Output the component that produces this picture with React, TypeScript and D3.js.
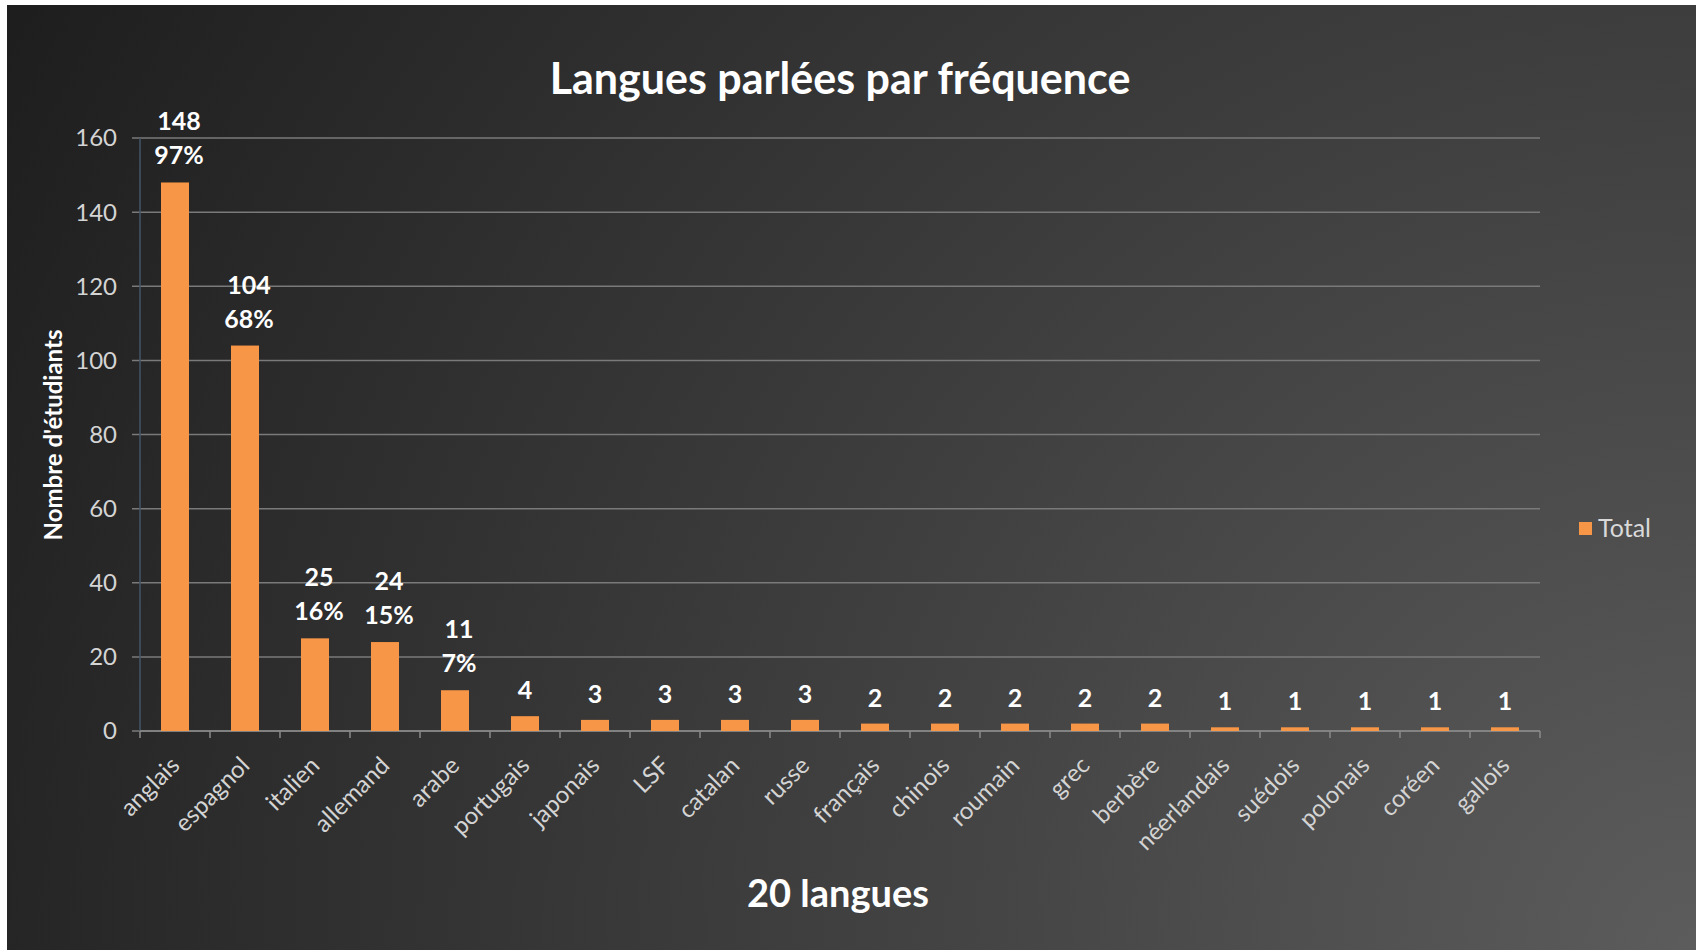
import React from "react";
import * as d3 from "d3";

const categories = ["anglais","espagnol","italien","allemand","arabe","portugais","japonais","LSF","catalan","russe","français","chinois","roumain","grec","berbère","néerlandais","suédois","polonais","coréen","gallois"];
const totals = [148,104,25,24,11,4,3,3,3,3,2,2,2,2,2,1,1,1,1,1];
const percentLabels = ["97%","68%","16%","15%","7%"];
const yTicks = [0,20,40,60,80,100,120,140,160];
const title = "Langues parlées par fréquence";
const xTitle = "20 langues";
const yTitle = "Nombre d'étudiants";
const legendLabel = "Total";

const W = 1696, H = 950;
const FONT = "Lato, 'Open Sans', sans-serif";

export default function App() {
  const x = d3.scaleBand<string>().domain(categories).range([140, 1540]).paddingInner(0.6).paddingOuter(0.3);
  const y = d3.scaleLinear().domain([0, 160]).range([731, 138]);
  const step = x.step();
  const boundaries = d3.range(categories.length + 1).map(i => 140 + i * step);
  return (
    <div style={{ position: "absolute", left: 0, top: 0, width: W, height: H }}>
      <svg width={W} height={H} style={{ display: "block" }}>
        <defs>
          <radialGradient id="bg" gradientUnits="userSpaceOnUse" cx={W} cy={H} r={1950}>
            <stop offset="0" stopColor="#5c5c5c" />
            <stop offset="0.5" stopColor="#3c3c3c" />
            <stop offset="1" stopColor="#1d1d1d" />
          </radialGradient>
        </defs>
        <rect x={0} y={0} width={W} height={H} fill="#ffffff" />
        <rect x={7} y={5} width={W - 7} height={H - 5} fill="url(#bg)" />
        <text x={840} y={94} textAnchor="middle" fill="#ffffff" fontFamily={FONT} fontWeight={700} fontSize={43}>{title}</text>
        {yTicks.map(t => (
          <g key={t}>
            <line x1={132} x2={1540} y1={y(t)} y2={y(t)} stroke="#7a7a7a" strokeWidth={1.5} />
            <text x={117} y={y(t)} dy="0.35em" textAnchor="end" fill="#d4d4d4" fontFamily={FONT} fontSize={24}>{t}</text>
          </g>
        ))}
        <line x1={140} x2={140} y1={138} y2={731} stroke="#435668" strokeWidth={1.5} />
        <line x1={140} x2={1540} y1={731} y2={731} stroke="#8a8a8a" strokeWidth={1.5} />
        {boundaries.map((b, i) => (
          <line key={i} x1={b} x2={b} y1={731} y2={738} stroke="#8a8a8a" strokeWidth={1.5} />
        ))}
        {categories.map((c, i) => {
          const bx = x(c) as number;
          const cx = bx + x.bandwidth() / 2;
          const top = y(totals[i]);
          const pct = percentLabels[i];
          return (
            <g key={c}>
              <rect x={bx} y={top} width={x.bandwidth()} height={731 - top} fill="#f79646" />
              {pct ? (
                <>
                  <text x={cx + 4} y={top - 52} textAnchor="middle" fill="#ffffff" fontFamily={FONT} fontWeight={700} fontSize={25}>{totals[i]}</text>
                  <text x={cx + 4} y={top - 18} textAnchor="middle" fill="#ffffff" fontFamily={FONT} fontWeight={700} fontSize={25}>{pct}</text>
                </>
              ) : (
                <text x={cx} y={top - 17} textAnchor="middle" fill="#ffffff" fontFamily={FONT} fontWeight={700} fontSize={25}>{totals[i]}</text>
              )}
              <text transform={`translate(${cx + 6},${767}) rotate(-45)`} textAnchor="end" fill="#d4d4d4" fontFamily={FONT} fontSize={24}>{c}</text>
            </g>
          );
        })}
        <text transform={`translate(62,435) rotate(-90)`} textAnchor="middle" fill="#ffffff" fontFamily={FONT} fontWeight={700} fontSize={24}>{yTitle}</text>
        <text x={838} y={907} textAnchor="middle" fill="#ffffff" fontFamily={FONT} fontWeight={700} fontSize={38}>{xTitle}</text>
        <rect x={1579} y={522} width={13} height={13} fill="#f79646" />
        <text x={1598} y={528} dy="0.35em" fill="#d9d9d9" fontFamily={FONT} fontSize={25}>{legendLabel}</text>
      </svg>
    </div>
  );
}
